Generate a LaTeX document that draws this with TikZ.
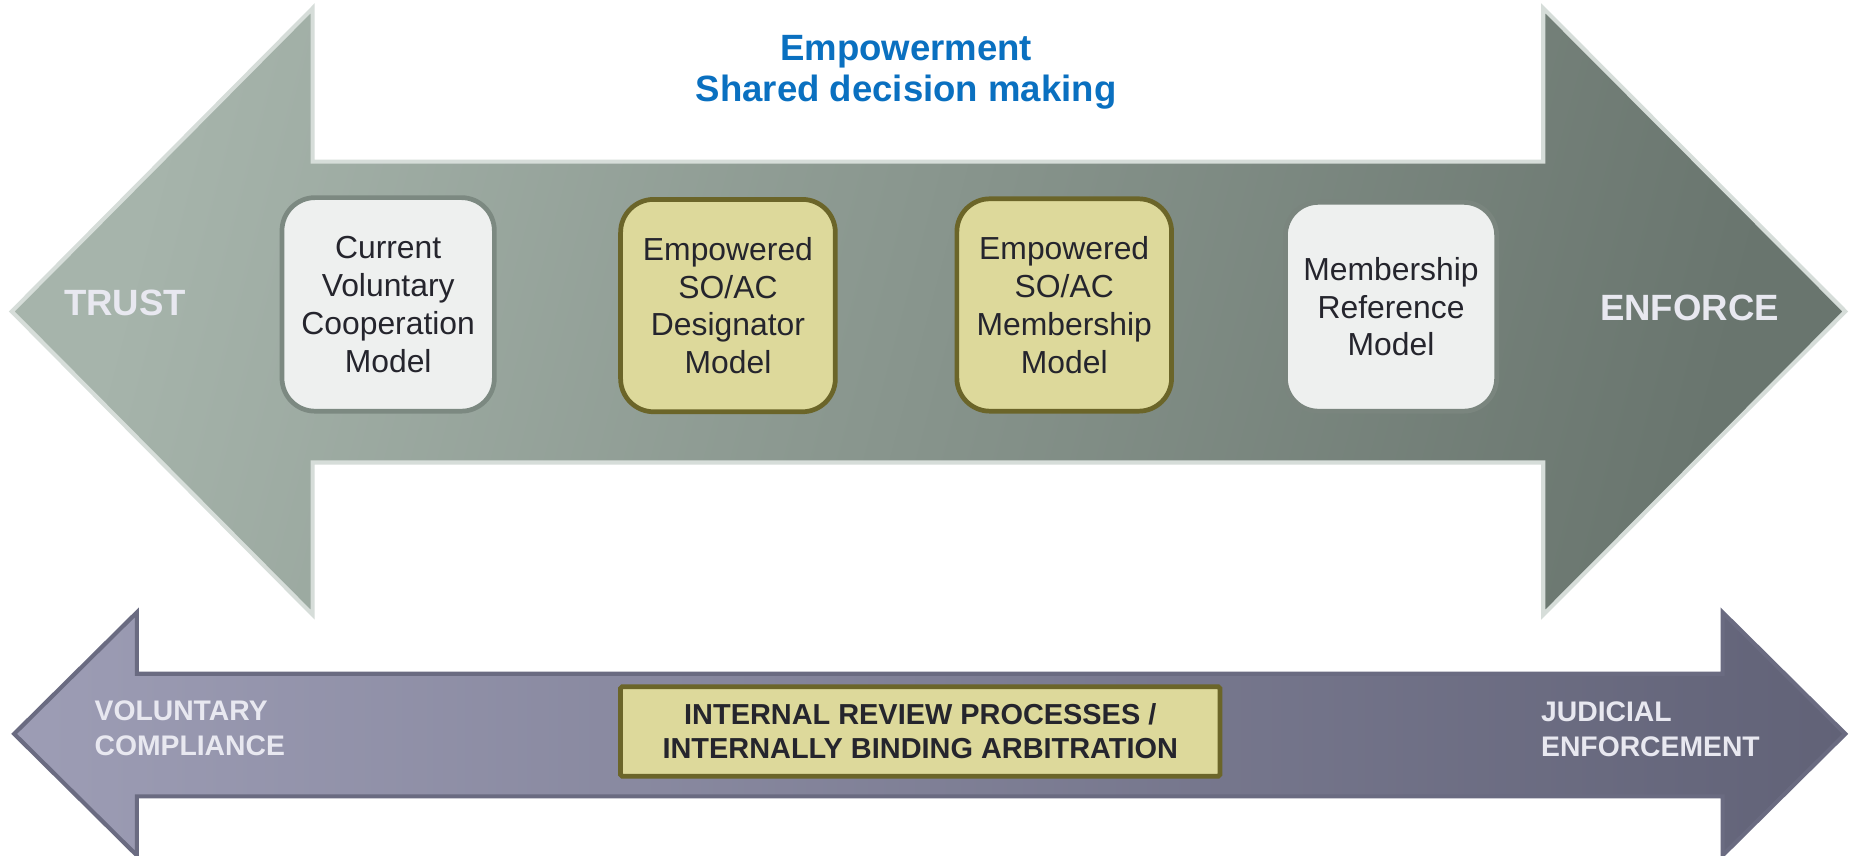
\documentclass[tikz,border=0pt]{standalone}
\usepackage{fontspec}
\setmainfont{Liberation Sans}
\definecolor{arrowA}{HTML}{A6B4AB}
\definecolor{arrowB}{HTML}{69756E}
\definecolor{arrowEdge}{HTML}{D6DDD9}
\definecolor{lowA}{HTML}{9D9DB5}
\definecolor{lowB}{HTML}{616277}
\definecolor{lowEdge}{HTML}{6A6B81}
\definecolor{boxFill}{HTML}{EEF0EF}
\definecolor{boxEdge}{HTML}{7C8981}
\definecolor{boxEdgeB}{HTML}{7A857E}
\definecolor{yelFill}{HTML}{DDD99B}
\definecolor{yelEdge}{HTML}{6B6529}
\definecolor{lightTxt}{HTML}{E8E8F0}
\definecolor{blueTxt}{HTML}{0A70C0}
\definecolor{darkTxt}{HTML}{25252D}
\tikzset{
  modelbox/.style={rounded corners=28pt, line width=4pt, align=center,
    text=darkTxt, font=\fontsize{27}{32}\selectfont, inner sep=0pt},
  greybox/.style={modelbox, fill=boxFill, draw=boxEdge},
  yellowbox/.style={modelbox, fill=yelFill, draw=yelEdge},
  biglabel/.style={text=lightTxt, font=\fontsize{31}{36}\selectfont\bfseries, inner sep=0pt},
  smalllabel/.style={text=lightTxt, font=\fontsize{24}{30}\selectfont\bfseries, align=left, inner sep=0pt},
}
\begin{document}
\begin{tikzpicture}[x=1pt,y=-1pt]
\useasboundingbox (0,0) rectangle (1568,725);
\fill[white] (0,0) rectangle (1568,725);
% top double arrow
\shade[left color=arrowA, right color=arrowB, shading angle=75, draw=arrowEdge, line width=3.5pt, line join=miter]
  (10,264) -- (265,7) -- (265,137) -- (1308,137) -- (1308,7) -- (1564,264)
  -- (1308,521) -- (1308,392) -- (265,392) -- (265,521) -- cycle;
% bottom double arrow
\shade[left color=lowA, right color=lowB, shading angle=90, draw=lowEdge, line width=3.5pt, line join=miter]
  (12,622) -- (116,519) -- (116,571) -- (1460,571) -- (1460,519) -- (1564,622)
  -- (1460,725) -- (1460,675) -- (116,675) -- (116,725) -- cycle;
% heading
\node[text=blueTxt, font=\fontsize{31}{35}\selectfont\bfseries, align=center, inner sep=0pt] (head) at (768,61)
  {Empowerment\\Shared decision making};
% labels
\node[biglabel] (trust) at (106,257) {TRUST};
\node[biglabel] (enforce) at (1432,261) {ENFORCE};
\node[smalllabel, anchor=west] (vol) at (80,617) {VOLUNTARY\\COMPLIANCE};
\node[smalllabel, anchor=west] (jud) at (1306,618) {JUDICIAL\\ENFORCEMENT};
% model boxes
\node[greybox, minimum width=180pt, minimum height=181pt] (cur) at (329,258)
  {Current\\Voluntary\\Cooperation\\Model};
\node[yellowbox, minimum width=182pt, minimum height=180pt] (des) at (617,259)
  {Empowered\\SO/AC\\Designator\\Model};
\node[yellowbox, minimum width=182pt, minimum height=180pt] (mem) at (902,258.5)
  {Empowered\\SO/AC\\Membership\\Model};
\node[greybox, draw=boxEdgeB, minimum width=179pt, minimum height=177pt] (ref) at (1179,260)
  {Membership\\Reference\\Model};
% internal review box
\node[fill=yelFill, draw=yelEdge, line width=4pt, rounded corners=1.5pt, minimum width=508pt, minimum height=76pt,
  align=center, text=darkTxt, font=\fontsize{24.5}{29}\selectfont\bfseries, inner sep=0pt] (irp) at (780,620)
  {INTERNAL REVIEW PROCESSES /\\INTERNALLY BINDING ARBITRATION};
\end{tikzpicture}
\end{document}
